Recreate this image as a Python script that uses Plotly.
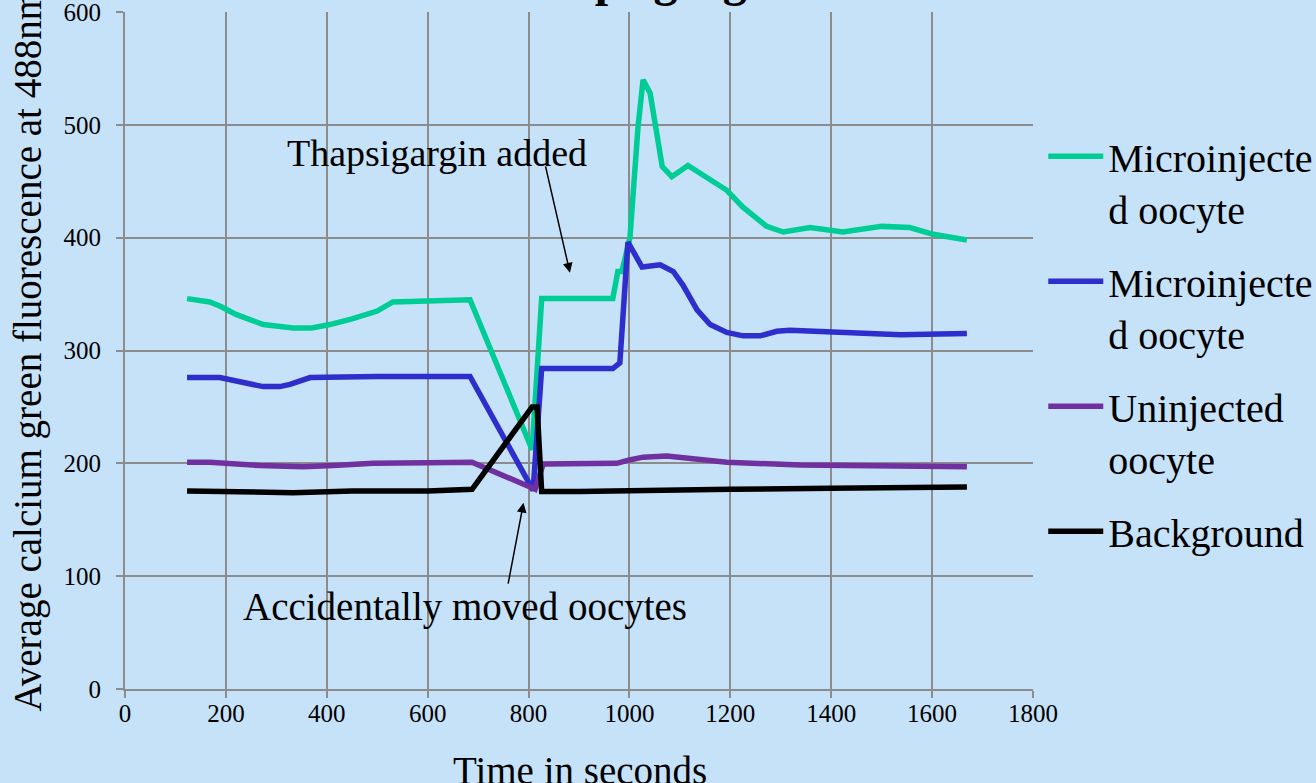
import plotly.graph_objects as go

# ---- data ----
green_t = [123, 168, 190, 220, 274, 333, 370, 406, 450, 500, 531, 600, 684, 807, 826, 880, 967, 977, 985,
           1001, 1017, 1027, 1041, 1065, 1084, 1116, 1166, 1193, 1225, 1272, 1305, 1358, 1423, 1500, 1556, 1602, 1669]
green_v = [346, 343, 339, 332, 323, 320, 320, 323, 328, 335, 343, 344, 345, 212, 346, 346, 346, 370, 370,
           400, 498, 540, 528, 463, 454, 464, 450, 442, 427, 410, 405, 409, 405, 410, 409, 403, 398]

blue_t = [123, 188, 274, 307, 327, 367, 500, 684, 809, 826, 900, 967, 981, 997, 1025, 1061, 1087, 1106,
          1134, 1160, 1193, 1225, 1259, 1292, 1318, 1404, 1537, 1669]
blue_v = [276, 276, 268, 268, 270, 276, 277, 277, 176, 284, 284, 284, 289, 396, 374, 376, 370, 358,
          336, 323, 316, 313, 313, 317, 318, 316, 314, 315]

purple_t = [123, 168, 268, 353, 413, 492, 600, 688, 803, 813, 829, 900, 975, 1000, 1027, 1074, 1130, 1193, 1338, 1500, 1669]
purple_v = [201, 201, 198, 197, 198, 200, 200.5, 201, 179, 177, 199.5, 199.5, 200, 203, 205.5, 206.5, 204, 201, 198.5, 197.5, 197]

black_t = [123, 200, 333, 450, 600, 688, 807, 817, 826, 900, 1000, 1200, 1400, 1669]
black_v = [175.5, 175, 174, 175.5, 175.5, 177, 250, 250, 175, 175, 176, 177, 178, 179]

series_names = ["Microinjecte<br>d oocyte", "Microinjecte<br>d oocyte", "Uninjected<br>oocyte", "Background"]
series_colors = ["#00CC96", "#2E2ECC", "#7030A0", "#000000"]

x_ticks = [0, 200, 400, 600, 800, 1000, 1200, 1400, 1600, 1800]
y_ticks = [0, 100, 200, 300, 400, 500, 600]

FONT = "Liberation Serif"
BG = "#C6E2F9"
GRID = "#8C8C8C"

fig = go.Figure()
for i, (t, v) in enumerate([(green_t, green_v), (blue_t, blue_v), (purple_t, purple_v), (black_t, black_v)]):
    fig.add_trace(go.Scatter(x=t, y=v, mode="lines", name=series_names[i],
                             legendgroup=f"g{i}",
                             line=dict(color=series_colors[i], width=5.5)))

fig.update_layout(
    width=1316, height=783,
    margin=dict(l=125, r=283, t=12, b=94, autoexpand=False),
    paper_bgcolor=BG, plot_bgcolor=BG,
    font=dict(family=FONT, color="black"),
    showlegend=True,
    legend=dict(x=1.0113, y=0.835, xanchor="left", yanchor="top",
                font=dict(family=FONT, size=40, color="black"),
                bgcolor="rgba(0,0,0,0)", valign="top",
                traceorder="grouped", tracegroupgap=18, itemwidth=55),
)
fig.update_xaxes(range=[0, 1800], tickvals=x_ticks, ticktext=[str(v) for v in x_ticks],
                 showgrid=True, gridcolor=GRID, gridwidth=2,
                 showline=True, linecolor=GRID, linewidth=2,
                 ticks="outside", ticklen=7, tickcolor=GRID, tickwidth=2,
                 tickfont=dict(family=FONT, size=25, color="black"),
                 zeroline=False, ticklabelstandoff=-6, ticklabeloverflow="allow", automargin=False)
fig.update_yaxes(range=[0, 600], tickvals=y_ticks, ticktext=[str(v) for v in y_ticks],
                 showgrid=True, gridcolor=GRID, gridwidth=2,
                 showline=True, linecolor=GRID, linewidth=2,
                 ticks="outside", ticklen=7, tickcolor=GRID, tickwidth=2,
                 tickfont=dict(family=FONT, size=25, color="black"),
                 zeroline=False, ticklabelstandoff=10, ticklabeloverflow="allow", automargin=False)

# titles
fig.add_annotation(text="<b>Thapsigargin</b>", xref="paper", yref="paper",
                   x=0.578, y=1 + 4 / 677, xanchor="center", yanchor="bottom", showarrow=False,
                   font=dict(family=FONT, size=48, color="black"))
fig.add_annotation(text="Time in seconds", xref="paper", yref="paper",
                   x=0.501, y=-81 / 677, xanchor="center", yanchor="middle", showarrow=False,
                   font=dict(family=FONT, size=39, color="black"))
fig.add_annotation(text="Average calcium green fluorescence at 488nm", xref="paper", yref="paper",
                   x=(27 - 125) / 908, y=0.5, xanchor="center", yanchor="middle", showarrow=False,
                   textangle=-90, font=dict(family=FONT, size=39, color="black"))

# callouts
fig.add_annotation(text="Thapsigargin added", x=619, y=475, xref="x", yref="y", showarrow=False,
                   font=dict(family=FONT, size=38, color="black"))
fig.add_annotation(text="", x=882, y=369, ax=833, ay=464.5, xref="x", yref="y", axref="x", ayref="y",
                   showarrow=True, arrowhead=2, arrowsize=1.3, arrowwidth=1.5, arrowcolor="black")
fig.add_annotation(text="Accidentally moved oocytes", x=674, y=73, xref="x", yref="y", showarrow=False,
                   font=dict(family=FONT, size=39, color="black"))
fig.add_annotation(text="", x=790, y=165, ax=759, ay=92, xref="x", yref="y", axref="x", ayref="y",
                   showarrow=True, arrowhead=2, arrowsize=1.3, arrowwidth=1.5, arrowcolor="black")

fig.write_html("out.html", config={"displayModeBar": False},
               post_script="document.body.style.margin='0';document.body.style.overflow='hidden';")
